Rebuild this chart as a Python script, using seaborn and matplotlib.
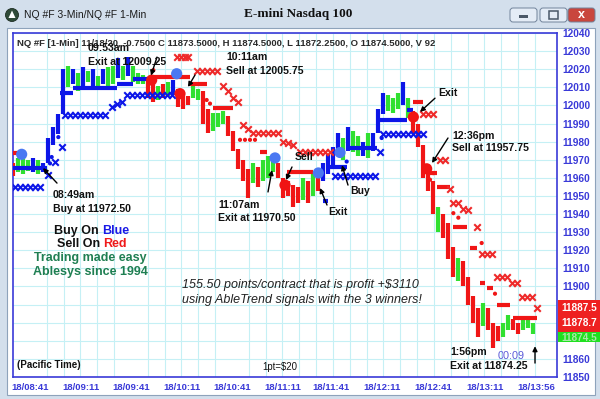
import numpy as np
import pandas as pd
import seaborn as sns
import matplotlib.pyplot as plt
import matplotlib.transforms as mtrans
from matplotlib.patches import Rectangle, FancyBboxPatch, Circle, Polygon

# x = minutes after 18/08:41 on the 1-min chart, sampled every 3 min off the picture
bar_t = [-10, -7, -4, -1, 2, 5, 8, 11, 14, 17, 20, 23, 26, 29, 32, 35, 38, 41, 44, 47,
         50, 53, 56, 59, 62, 65, 68, 71, 74, 77, 80, 83, 86, 89, 92, 95, 98, 101, 104, 107,
         110, 113, 116, 119, 122, 125, 128, 131, 134, 137, 140, 143, 146, 149, 152, 155, 158, 161, 164, 167,
         170, 173, 176, 179, 182, 185, 188, 191, 194, 197, 200, 203, 206, 209, 212, 215, 218, 221, 224, 227,
         230, 233, 236, 239, 242, 245, 248, 251, 254, 257, 260, 263, 266, 269, 272, 275, 278, 281, 284, 287,
         290, 293, 296, 299, 302]
bar_lo = [11961, 11963, 11962, 11964, 11963, 11962, 11963, 11968, 11978, 11984, 11995, 12010, 12012, 12008, 12011, 12013, 12010, 12009, 12012, 12010,
          12012, 12015, 12014, 12016, 12013, 12012, 12012, 12004, 12002, 12003, 12004, 12005, 12006, 11999, 11998, 12000, 12004, 12003, 11990, 11985,
          11986, 11988, 11990, 11983, 11975, 11965, 11958, 11949, 11957, 11955, 11958, 11960, 11963, 11960, 11949, 11950, 11944, 11946, 11948, 11946,
          11950, 11953, 11958, 11962, 11966, 11972, 11970, 11975, 11974, 11972, 11972, 11971, 11975, 11985, 11995, 11997, 11996, 11998, 12000, 11993,
          11985, 11977, 11960, 11953, 11940, 11930, 11927, 11915, 11905, 11903, 11900, 11890, 11880, 11872, 11878, 11876, 11866, 11870, 11872, 11876,
          11876, 11874, 11876, 11877, 11874]
bar_hi = [11968, 11971, 11972, 11970, 11971, 11970, 11968, 11982, 11988, 11995, 12020, 12022, 12020, 12018, 12021, 12019, 12020, 12016, 12020, 12021,
          12022, 12026, 12022, 12027, 12022, 12018, 12017, 12015, 12012, 12011, 12012, 12013, 12014, 12009, 12006, 12005, 12011, 12009, 12008, 11998,
          11996, 11996, 11997, 11994, 11986, 11976, 11970, 11965, 11968, 11966, 11970, 11972, 11973, 11968, 11960, 11958, 11956, 11955, 11960, 11958,
          11962, 11962, 11968, 11973, 11977, 11985, 11982, 11988, 11986, 11983, 11980, 11985, 11985, 11998, 12007, 12006, 12004, 12007, 12013, 12004,
          11997, 11990, 11978, 11965, 11958, 11944, 11940, 11935, 11922, 11916, 11914, 11905, 11895, 11888, 11891, 11888, 11880, 11878, 11880, 11884,
          11882, 11880, 11882, 11882, 11880]
bar_col = list("rgggbgb" "bbbb" "gbgbgbgbggbgbggg" "rrgrgbrrrgg" "rrgggrrrrr"
               "grgggrrrrr" "grgr" "bbbbgbggbgbbb" "gggbg" "rrrrrgrrrgr" "rrrgrrrggrrggg")

# AbleTrend stop lines (start, end, level)
blue_t0 = [-10, 18, 26, 52, 62, 176, 180, 192, 210, 226]
blue_t1 = [10, 26, 52, 62, 72, 179, 190, 208, 226, 230]
blue_lvl = [11965.5, 12007, 12009.6, 12012, 12014.5, 11947, 11966, 11976.5, 11992, 11997.5]
red_t0 = [-10, 74, 96, 110, 138, 154, 230, 240, 244, 254, 264, 270, 274, 280, 290]
red_t1 = [-7, 96, 106, 122, 142, 170, 236, 244, 252, 262, 268, 273, 278, 288, 304]
red_lvl = [11973.7, 12015.5, 12012, 11998.5, 11974, 11963, 12002, 11962.6, 11955, 11933, 11921, 11902, 11899, 11890, 11882.5]

# trailing stop crosses
bluex_t = [-9, -6, -3, 0, 3, 6, 11, 15, 19, 21, 24, 27, 30, 33, 36, 39, 42, 45, 49, 52, 55,
           58, 61, 64, 67, 70, 73, 76, 79, 82, 85,
           183, 186, 189, 192, 195, 198, 201, 204, 207, 210, 212, 215, 218, 221, 224, 227, 230, 233, 236]
bluex_p = [11955, 11955, 11955, 11955, 11955, 11955, 11961.5, 11969, 11977, 11994.7, 11994.7, 11994.7, 11994.7, 11994.7, 11994.7, 11994.7, 11994.7, 11994.7, 11999, 12001, 12002,
           12006, 12006, 12006, 12006, 12006, 12006, 12006, 12006, 12006, 12006,
           11961, 11961, 11961, 11961, 11961, 11961, 11961, 11961, 11961, 11974, 11984, 11984, 11984, 11984, 11984, 11984, 11984, 11984, 11984]
redx_t = [88, 90.5, 93, 95, 100, 103, 106, 109, 112, 116, 119, 122, 125,
          128, 131, 134, 137, 140, 143, 146, 149, 152, 155, 158,
          162, 165, 168, 171, 174, 177, 180,
          236, 239, 242, 246, 249, 252, 254, 257, 260, 263, 268, 271, 274, 277,
          280, 283, 286, 289, 292, 295, 298, 301, 304]
redx_p = [12027, 12027, 12027, 12027, 12019, 12019, 12019, 12019, 12019, 12011, 12008, 12004, 12002,
          11989, 11987, 11985, 11985, 11985, 11985, 11985, 11985, 11980, 11979, 11978,
          11974, 11974, 11974, 11974, 11974, 11974, 11974,
          11995, 11995, 11995, 11970, 11970, 11954, 11946, 11946, 11943, 11942, 11933, 11918, 11918, 11918,
          11905, 11905, 11905, 11902, 11902, 11894, 11894, 11894, 11888]

# small stop dots
bdot_t = [12, 13, 17, 211, 190]
bdot_p = [11968, 11971.5, 11982.5, 11982, 11969]
rdot_t = [74, 106, 108, 126, 129, 132, 135, 240, 242, 254, 257, 271, 279]
rdot_p = [12019.5, 12003, 12001, 11981, 11981, 11981, 11981, 11959, 11962.6, 11940.5, 11938, 11924, 11896]

# trade signals
sig_t = [-5, 73, 88, 90, 147, 153, 173, 186, 230, 238]
sig_p = [11973, 12014, 12017.5, 12006.5, 11971, 11956, 11962.7, 11974, 11993.6, 11965]
sig_side = ["buy", "sell", "buy", "sell", "buy", "sell", "buy", "buy", "sell", "sell"]

xtick_pos = [0, 30.6, 60.6, 91.2, 121.2, 151.8, 180.6, 211.2, 241.8, 273.0, 303.6]
xtick_lab = ["18/08:41", "18/09:11", "18/09:41", "18/10:11", "18/10:41", "18/11:11",
             "18/11:41", "18/12:11", "18/12:41", "18/13:11", "18/13:56"]
# price scale; the last-price boxes cover 11870..11890
ytick_pos = [11850, 11860, 11870, 11880, 11890, 11900, 11910, 11920, 11930, 11940, 11950, 11960, 11970,
             11980, 11990, 12000, 12010, 12020, 12030, 12040]
ytick_lab = ["11850", "11860", "", "", "", "11900", "11910", "11920", "11930", "11940", "11950", "11960",
             "11970", "11980", "11990", "12000", "12010", "12020", "12030", "12040"]

BLUE = "#0c16e8"
GREEN = "#30e030"
RED = "#f01616"
AXBLUE = "#3a3ad8"

sns.set_style("white")
plt.rcParams["font.family"] = ["Liberation Sans", "DejaVu Sans"]

fig = plt.figure(figsize=(6, 3.99), dpi=100)
fig.patch.set_facecolor("#d3dfec")
# pixel coords, origin top-left
pix = mtrans.Affine2D().scale(1 / 600, -1 / 399).translate(0, 1) + fig.transFigure

fig.patches.append(Rectangle((7, 28), 588, 367, transform=pix, fc="white", ec="#8ea3bb", lw=0.8, zorder=-5))

ax = fig.add_axes([13 / 600, 22 / 399, 544 / 600, 344 / 399])
ax.set_xlim(-10.2, 316.2)
ax.set_ylim(11850, 12040)

cmap = {"b": BLUE, "g": GREEN, "r": RED}
ax.vlines(bar_t, bar_lo, bar_hi, colors=[cmap[c] for c in bar_col], lw=3.0, zorder=3)
ax.hlines(blue_lvl, blue_t0, blue_t1, colors=BLUE, lw=3.0, zorder=4)
ax.hlines(red_lvl, red_t0, red_t1, colors=RED, lw=3.0, zorder=4)

sns.scatterplot(x=bluex_t, y=bluex_p, marker="x", color=BLUE, s=22, linewidth=1.5, ax=ax, zorder=4, legend=False)
sns.scatterplot(x=redx_t, y=redx_p, marker="x", color="#ee2a2a", s=22, linewidth=1.5, ax=ax, zorder=4, legend=False)
sns.scatterplot(x=bdot_t, y=bdot_p, color=BLUE, s=9, edgecolor="none", ax=ax, zorder=4, legend=False)
sns.scatterplot(x=rdot_t, y=rdot_p, color=RED, s=9, edgecolor="none", ax=ax, zorder=4, legend=False)

sig = pd.DataFrame({"t": sig_t, "p": sig_p, "side": sig_side})
sns.scatterplot(data=sig, x="t", y="p", hue="side", palette={"buy": "#4a78f2", "sell": "#f01414"},
                s=65, edgecolor="none", ax=ax, zorder=6, legend=False)

# axes styling
ax.set_xlabel("")
ax.set_ylabel("")
ax.set_yticks(ytick_pos)
ax.set_yticklabels(ytick_lab, fontsize=7.3, fontweight="bold", color=AXBLUE)
ax.yaxis.tick_right()
ax.tick_params(axis="y", length=0, pad=4)
ax.set_xticks(xtick_pos)
ax.set_xticklabels(xtick_lab, fontsize=6.8, fontweight="bold", color=AXBLUE)
ax.set_xticks(np.arange(0, 304, 10.1), minor=True)
ax.tick_params(axis="x", which="both", direction="out", length=3, width=1, color=AXBLUE, pad=1.5)
ax.grid(True, which="major", axis="y", color="#c5f0f5", lw=0.8)
ax.grid(True, which="minor", axis="x", color="#c5f0f5", lw=0.8)
ax.set_axisbelow(True)
for sp in ax.spines.values():
    sp.set_color(AXBLUE)
    sp.set_linewidth(1.2)

# arrows to signals
arr = dict(arrowstyle="-|>", color="black", lw=1.0, mutation_scale=7, shrinkA=0, shrinkB=0)
for (a, b) in [((76.2, 12026.7), (72.6, 12016.5)),
               ((99, 12016.8), (94.8, 12010.2)),
               ((16.2, 11957.1), (7.8, 11965.4)),
               ((142.8, 11952.2), (145.2, 11964.3)),
               ((157.2, 11966), (153.6, 11958.8)),
               ((178.2, 11945), (174, 11954.4)),
               ((190.8, 11956), (187.2, 11967)),
               ((243, 12004), (234, 11996.4)),
               ((250.8, 11982), (241.2, 11968.2)),
               ((303, 11857.7), (303, 11867))]:
    ax.annotate("", xy=b, xytext=a, arrowprops=arr, zorder=7)

def txt(x, y, s, **kw):
    kw.setdefault("va", "center")
    kw.setdefault("color", "#111111")
    fig.text(x, y, s, transform=pix, **kw)

bold = dict(fontsize=7.6, fontweight="bold")
txt(17, 44, "NQ #F [1-Min] 11/18/20, -0.7500 C 11873.5000, H 11874.5000, L 11872.2500, O 11874.5000, V 92",
    fontsize=6.8, fontweight="bold", color="#2a2a2a")
txt(88, 48, "09:53am", **bold)
txt(88, 62, "Exit at 12009.25", **bold)
txt(226, 57, "10:11am", **bold)
txt(226, 71, "Sell at 12005.75", **bold)
txt(53, 195, "08:49am", **bold)
txt(53, 209, "Buy at 11972.50", **bold)
txt(218, 205, "11:07am", **bold)
txt(218, 218, "Exit at 11970.50", **bold)
txt(295, 157, "Sell", **bold)
txt(328, 212, "Exit", **bold)
txt(350, 191, "Buy", **bold)
txt(438, 93, "Exit", **bold)
txt(452, 136, "12:36pm", **bold)
txt(452, 148, "Sell at 11957.75", **bold)
txt(450, 352, "1:56pm", **bold)
txt(450, 366, "Exit at 11874.25", **bold)
txt(498, 356, "00:09", fontsize=7.8, color="#5a5ad8")

txt(99, 231, "Buy On", fontsize=9, fontweight="bold", ha="right")
txt(102, 231, "Blue", fontsize=9, fontweight="bold", color="#1a1ae6")
txt(100.5, 244, "Sell On", fontsize=9, fontweight="bold", ha="right")
txt(103.5, 244, "Red", fontsize=9, fontweight="bold", color="#f01a1a")
txt(90, 258, "Trading made easy", fontsize=9, fontweight="bold", ha="center", color="#1f7f52")
txt(90, 272, "Ablesys since 1994", fontsize=9, fontweight="bold", ha="center", color="#1f7f52")
txt(182, 285, "155.50 points/contract that is profit +$3110", fontsize=9, style="italic", color="#222222")
txt(182, 300, "using AbleTrend signals with the 3 winners!", fontsize=9, style="italic", color="#222222")
txt(17, 365, "(Pacific Time)", fontsize=7, fontweight="bold")
txt(262, 367, "1pt=$20", fontsize=6.9)

# last price boxes on the right scale
fig.patches.append(Rectangle((558, 300), 42, 32, transform=pix, fc="#ee2020", ec="none", zorder=3))
fig.patches.append(Rectangle((558, 332), 42, 10, transform=pix, fc="#20e020", ec="none", zorder=3))
txt(561, 308, "11887.5", fontsize=7.2, fontweight="bold", color="white", zorder=4)
txt(561, 323, "11878.7", fontsize=7.2, fontweight="bold", color="white", zorder=4)
txt(561, 338, "11874.5", fontsize=7.2, fontweight="bold", color="#a8e8a8", zorder=4)

# window title bar
fig.patches.append(Circle((12, 15), 6.5, transform=pix, fc="#2e4a38", ec="#1d2d22", lw=0.6))
fig.patches.append(Polygon([(12, 10.5), (8.5, 18), (15.5, 18)], closed=True, transform=pix, fc="white", ec="none"))
txt(24, 15, "NQ #F 3-Min/NQ #F 1-Min", fontsize=7.5, color="#1a1a1a")
fig.text(298 / 600, 1 - 14 / 399, "E-mini Nasdaq 100", fontsize=9.5, fontweight="bold",
         family=["Liberation Serif", "DejaVu Serif"], ha="center", va="center", color="#111111")
for x0, fc in [(510, "#e4ecf6"), (540, "#e4ecf6"), (568, "#c9463d")]:
    fig.patches.append(FancyBboxPatch((x0, 8), 27, 14, boxstyle="round,pad=0,rounding_size=3",
                                      transform=pix, fc=fc, ec="#71839a", lw=0.7))
fig.patches.append(Rectangle((519, 15), 9, 2.5, transform=pix, fc="#4a5868", ec="none"))
fig.patches.append(Rectangle((549, 11), 9, 8, transform=pix, fc="none", ec="#4a5868", lw=1.1))
txt(581.5, 15, "x", fontsize=9, fontweight="bold", color="white", ha="center")

fig.savefig("out.png", dpi=100)
